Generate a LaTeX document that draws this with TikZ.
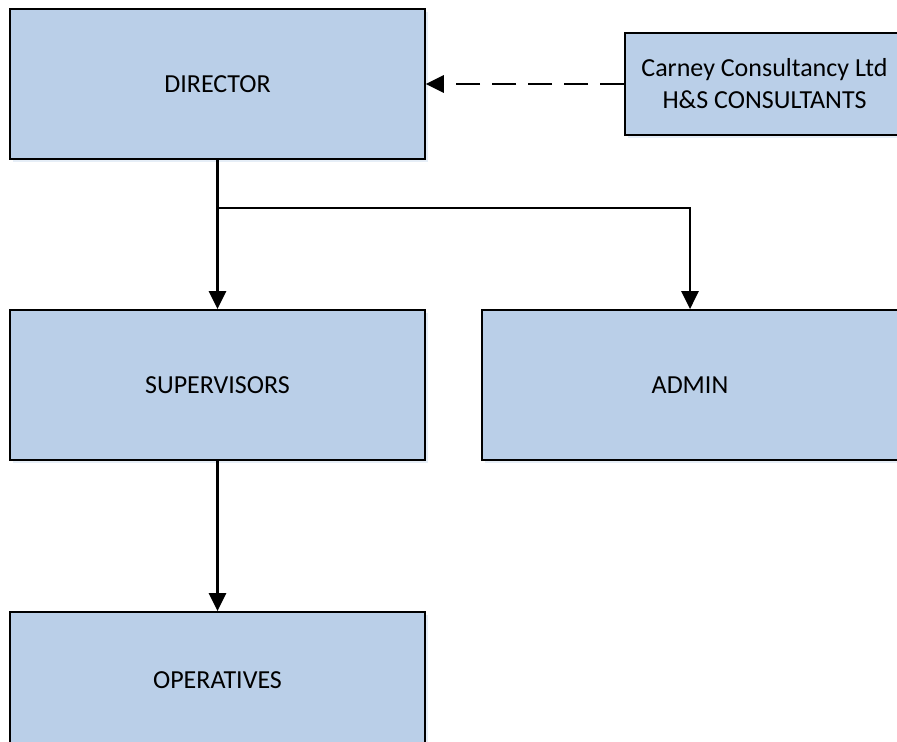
\documentclass[tikz,border=0pt]{standalone}
\usepackage{fontspec}
\setmainfont{Carlito}
\usetikzlibrary{arrows.meta,shadows}
\definecolor{boxfill}{RGB}{186,207,232}
\definecolor{shadowblue}{RGB}{214,226,242}
\begin{document}
\begin{tikzpicture}[x=0.75pt,y=-0.75pt,
  orgbox/.style={draw=black,line width=1.4pt,fill=boxfill,rectangle,inner sep=0pt,
    align=center,font=\fontsize{19.5}{24}\selectfont,
    drop shadow={shadow xshift=2pt,shadow yshift=-2.5pt,fill=shadowblue,opacity=0.6}},
  link/.style={draw=black,line width=1.6pt,-{Triangle[width=13pt,length=13.5pt]}},
  advice/.style={link,dash pattern=on 18pt off 9pt}]
  \useasboundingbox (0,0) rectangle (897,742);
  \clip (0,0) rectangle (897,742);

  % organisation boxes
  \node[orgbox,minimum width=311pt,minimum height=112.5pt] (director) at (217.5,84) {DIRECTOR};
  \node[orgbox,minimum width=209pt,minimum height=76.5pt] (consult) at (764.5,84)
    {Carney Consultancy Ltd\\H\&S CONSULTANTS};
  \node[orgbox,minimum width=311pt,minimum height=112.5pt] (super) at (217.5,385) {SUPERVISORS};
  \node[orgbox,minimum width=312pt,minimum height=112.5pt] (admin) at (690,385) {ADMIN};
  \node[orgbox,minimum width=311pt,minimum height=102pt] (oper) at (217.5,680) {OPERATIVES};

  % reporting lines
  \coordinate (split) at (217.5,208);
  \draw[link] (director.south) -- (super.north);
  \draw[link] (split) -| (admin.north);
  \draw[link] (super.south) -- (oper.north);

  % external advice
  \draw[advice] (consult.west) -- (director.east);
\end{tikzpicture}
\end{document}
